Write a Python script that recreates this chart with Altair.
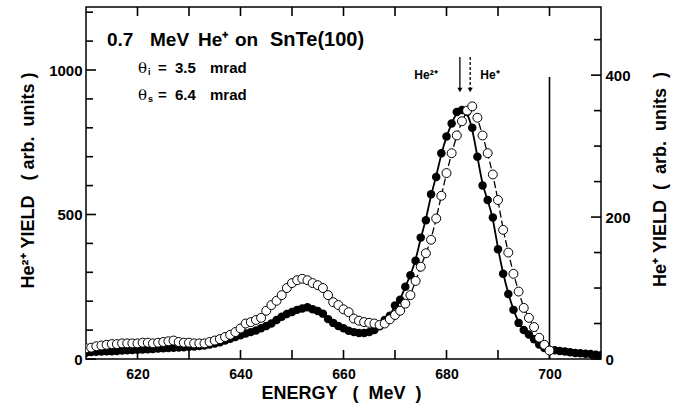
import altair as alt
import pandas as pd

FONT = "Liberation Sans"
NB = "\u00a0"

# He2+ yield (filled circles, left axis), 1 MeV steps from 610 to 710 MeV
energy_he2 = list(range(610, 711))
yield_he2 = [22, 24, 25, 26, 27, 27, 28, 29, 30, 31,          # 610-619
             32, 33, 34, 35, 36, 37, 38, 39, 40, 41,          # 620-629
             42, 43, 45, 47, 50, 54, 58, 64, 70, 76,          # 630-639
             82, 88, 93, 99, 106, 114, 123, 135, 146, 156,    # 640-649
             163, 170, 175, 179, 172, 166, 157, 138, 125, 114,  # 650-659
             106, 98, 93, 90, 90, 93, 100, 113, 135, 150,     # 660-669
             185, 205, 250, 290, 340, 420, 480, 570, 630, 712,  # 670-679
             770, 815, 855, 862, 855, 800, 700, 600, 550, 490,  # 680-689
             380, 295, 225, 170, 125, 100, 85, 68, 50, 38,    # 690-699
             30, 30, 28, 26, 23, 21, 20, 18, 17, 15, 13]      # 700-710

# He+ yield (open circles, right axis), 1 MeV steps from 610 to 700 MeV
energy_he1 = list(range(610, 701))
yield_he1 = [15, 16, 18, 19, 20, 21, 21, 22, 22, 22,          # 610-619
             22, 23, 23, 22, 23, 24, 25, 26, 24, 23,          # 620-629
             23, 22, 22, 22, 24, 26, 28, 31, 34, 38,          # 630-639
             43, 50, 52, 55, 58, 68, 76, 82, 90, 100,         # 640-649
             107, 111, 113, 111, 107, 104, 100, 90, 80, 76,   # 650-659
             70, 66, 57, 54, 52, 51, 50, 48, 50, 56,          # 660-669
             62, 68, 78, 90, 110, 130, 149, 168, 198, 230,    # 670-679
             262, 290, 315, 335, 350, 356, 340, 315, 290, 260,  # 680-689
             224, 182, 150, 120, 95, 72, 58, 45, 30, 20,      # 690-699
             12]                                              # 700

# axis ticks and labels
x_labels = [620, 640, 660, 680, 700]
x_ticks = [620, 630, 640, 650, 660, 670, 680, 690, 700]
left_labels = [0, 500, 1000]
left_minor = [100, 200, 300, 400, 600, 700, 800, 900, 1100, 1200]
right_labels = [0, 200, 400]
right_minor = [50, 100, 150, 250, 300, 350, 450]

# peak positions marked by arrows, and the edge line
arrow_he2 = 682.6
arrow_he1 = 684.6
edge_energy = 700

he2 = pd.DataFrame({"energy": energy_he2, "yield": yield_he2})
he1 = pd.DataFrame({"energy": energy_he1, "yield": yield_he1})
one = pd.DataFrame({"k": [0]})

xs = alt.Scale(domain=[610, 710], nice=False, zero=False)
ls = alt.Scale(domain=[0, 1218], nice=False)
rs = alt.Scale(domain=[0, 496], nice=False)

x_axis = alt.Axis(values=x_labels, ticks=False, domain=False, grid=False, format="d",
                  labelFont=FONT, labelFontSize=14, labelFontWeight="bold",
                  labelColor="black", labelPadding=8,
                  title=f"ENERGY{NB*3}({NB*2}MeV{NB*2})", titleFont=FONT,
                  titleFontSize=18, titleFontWeight="bold", titleColor="black",
                  titleX=255, titleY=34, titleAlign="center", titleBaseline="middle")
left_axis = alt.Axis(values=left_labels, ticks=False, domain=False, grid=False, format="d",
                     labelFont=FONT, labelFontSize=15, labelFontWeight="bold",
                     labelColor="black", labelPadding=4,
                     title=f"He²⁺{NB}YIELD{NB*3}({NB}arb.{NB}{NB}units{NB})",
                     titleFont=FONT, titleFontSize=18, titleFontWeight="bold",
                     titleColor="black", titleAngle=270, titleX=-58, titleY=173,
                     titleAlign="center", titleBaseline="middle")
right_axis = alt.Axis(orient="right", values=right_labels, ticks=False, domain=False,
                      grid=False, format="d", labelFont=FONT, labelFontSize=15,
                      labelFontWeight="bold", labelColor="black", labelPadding=4,
                      title=f"He⁺{NB}YIELD{NB*2}({NB*2}arb.{NB*2}units{NB}{NB})",
                      titleFont=FONT, titleFontSize=18, titleFontWeight="bold",
                      titleColor="black", titleAngle=270, titleX=59, titleY=172,
                      titleAlign="center", titleBaseline="middle")

X = lambda f: alt.X(f, scale=xs, axis=x_axis)
YL = lambda f: alt.Y(f, scale=ls, axis=left_axis)
YR = lambda f: alt.Y(f, scale=rs, axis=right_axis)

# ---- left-scale group: He2+ data, frame ticks, annotations ----
he2_pts = alt.Chart(he2).mark_point(filled=True, color="black", size=72, opacity=1,
                                    clip=True).encode(x=X("energy:Q"), y=YL("yield:Q"))
he2_fit = alt.Chart(he2).mark_line(color="black", strokeWidth=1.8, interpolate="basis",
                                   clip=True).encode(x=X("energy:Q"), y=YL("yield:Q"))

xt = pd.DataFrame({"e": x_ticks})
x_bot = alt.Chart(xt).mark_rule(color="black", strokeWidth=1.6).encode(
    x=X("e:Q"), y=alt.value(352), y2=alt.value(343))
x_top = alt.Chart(xt).mark_rule(color="black", strokeWidth=1.6).encode(
    x=X("e:Q"), y=alt.value(0), y2=alt.value(9))
l_major = alt.Chart(pd.DataFrame({"v": left_labels})).mark_rule(
    color="black", strokeWidth=1.6).encode(y=YL("v:Q"), x=alt.value(0), x2=alt.value(10))
l_minor = alt.Chart(pd.DataFrame({"v": left_minor})).mark_rule(
    color="black", strokeWidth=1.6).encode(y=YL("v:Q"), x=alt.value(0), x2=alt.value(7))

edge = alt.Chart(one).mark_rule(color="black", strokeWidth=1.6).encode(
    x=alt.X(datum=edge_energy, scale=xs, axis=x_axis), y=alt.value(70), y2=alt.value(352))

arrow_solid = alt.Chart(one).mark_rule(color="black", strokeWidth=1.3).encode(
    x=alt.X(datum=arrow_he2, scale=xs, axis=x_axis), y=alt.value(50), y2=alt.value(82))
arrow_dash = alt.Chart(one).mark_rule(color="black", strokeWidth=1.3, strokeDash=[3, 2]).encode(
    x=alt.X(datum=arrow_he1, scale=xs, axis=x_axis), y=alt.value(50), y2=alt.value(82))
head_solid = alt.Chart(one).mark_point(shape="triangle-down", filled=True, color="black",
                                       size=26, opacity=1).encode(
    x=alt.X(datum=arrow_he2, scale=xs, axis=x_axis), y=alt.value(83))
head_dash = alt.Chart(one).mark_point(shape="triangle-down", filled=True, color="black",
                                      size=26, opacity=1).encode(
    x=alt.X(datum=arrow_he1, scale=xs, axis=x_axis), y=alt.value(83))


def label(text, x, y, size, weight="bold", font=FONT, align="left"):
    return alt.Chart(one).mark_text(text=text, font=font, fontSize=size, fontWeight=weight,
                                    color="black", align=align, baseline="middle").encode(
        x=alt.value(x), y=alt.value(y))


texts = [
    # heading, word by word
    label("0.7", 21, 33, 19),
    label("MeV", 64, 33, 19),
    label("He⁺", 112, 33, 19),
    label("on", 149, 33, 19),
    label("SnTe(100)", 184, 33, 20),
    # angles
    label("θ", 52, 61, 15, weight="normal", font="DejaVu Serif"),
    label("i", 62, 65, 9),
    label("=", 72, 61, 15),
    label("3.5", 89, 61, 15),
    label("mrad", 124, 61, 15),
    label("θ", 52, 88, 15, weight="normal", font="DejaVu Serif"),
    label("s", 62, 92, 9),
    label("=", 72, 88, 15),
    label("6.4", 89, 88, 15),
    label("mrad", 124, 88, 15),
    # peak markers
    label("He²⁺", 340, 68, 12, align="center"),
    label("He⁺", 404, 68, 12, align="center"),
]

left_group = alt.layer(he2_fit, he2_pts, x_bot, x_top, l_major, l_minor, edge,
                       arrow_solid, arrow_dash, head_solid, head_dash, *texts)

# ---- right-scale group: He+ data and right ticks ----
he1_fit = alt.Chart(he1).mark_line(color="black", strokeWidth=1.3, strokeDash=[7, 3],
                                   interpolate="basis", clip=True).encode(
    x=X("energy:Q"), y=YR("yield:Q"))
he1_pts = alt.Chart(he1).mark_point(filled=True, fill="white", stroke="black", strokeWidth=1,
                                    size=80, opacity=1, clip=True).encode(
    x=X("energy:Q"), y=YR("yield:Q"))
r_major = alt.Chart(pd.DataFrame({"v": right_labels})).mark_rule(
    color="black", strokeWidth=1.6).encode(y=YR("v:Q"), x=alt.value(515), x2=alt.value(505))
r_minor = alt.Chart(pd.DataFrame({"v": right_minor})).mark_rule(
    color="black", strokeWidth=1.6).encode(y=YR("v:Q"), x=alt.value(515), x2=alt.value(508))

right_group = alt.layer(he1_fit, he1_pts, r_major, r_minor)

chart = alt.layer(left_group, right_group).resolve_scale(y="independent").properties(
    width=515, height=352,
    padding={"left": 86, "top": 7, "right": 75, "bottom": 49},
    autosize=alt.AutoSizeParams(type="none"),
    background="white",
).configure_view(stroke="black", strokeWidth=1.5)

chart.save("out.html", embed_options={"renderer": "svg", "actions": False})
